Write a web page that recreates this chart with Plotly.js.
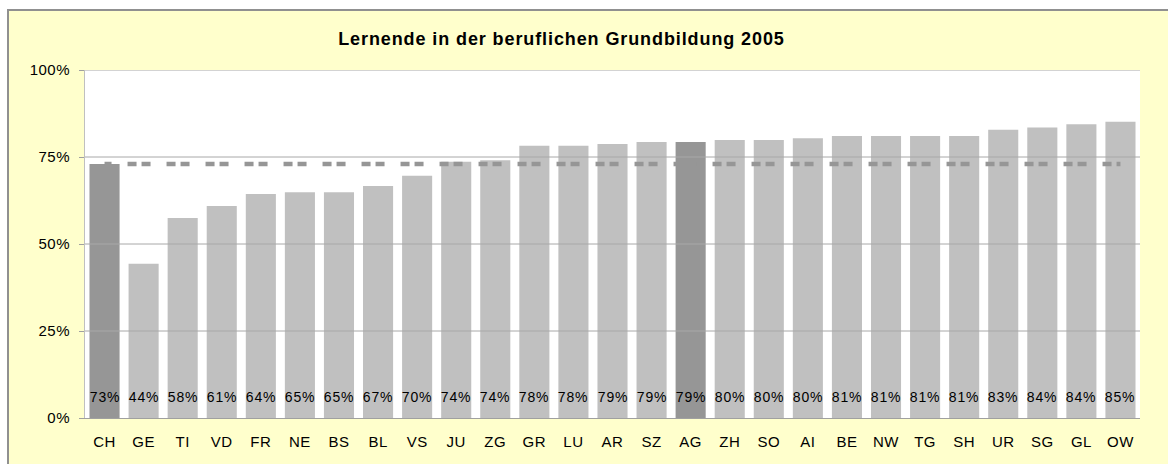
<!DOCTYPE html>
<html>
<head>
<meta charset="utf-8">
<script src="https://cdn.plot.ly/plotly-3.0.1.min.js"></script>
<style>
  html, body { margin: 0; padding: 0; background: #ffffff; overflow: hidden; }
  #frame {
    position: absolute; left: 7px; top: 9px; width: 1161px; height: 455px;
    background: #FFFFCC; border-left: 2px solid #909090; border-top: 2px solid #909090;
    box-sizing: border-box;
  }
  #chart { position: absolute; left: 0; top: 0; width: 1168px; height: 464px; }
  #chart .gtitle { letter-spacing: 0.9px; }
  #chart .annotation-text { letter-spacing: 0.8px; }
  #chart .xtick text, #chart .ytick text { letter-spacing: 0.5px; }
</style>
</head>
<body>
<div id="frame"></div>
<div id="chart"></div>
<script>
// Kantone
const categories = ['CH','GE','TI','VD','FR','NE','BS','BL','VS','JU','ZG','GR','LU','AR','SZ','AG','ZH','SO','AI','BE','NW','TG','SH','UR','SG','GL','OW'];
// Anteil Lernende in der beruflichen Grundbildung 2005 (%)
const values = [73.0,44.3,57.5,60.9,64.4,64.9,64.9,66.7,69.6,73.6,74.1,78.2,78.2,78.7,79.3,79.3,79.9,79.9,80.4,81.0,81.0,81.0,81.0,82.8,83.5,84.4,85.1];
// Schweizer Durchschnitt (%)
const average = [73,73,73,73,73,73,73,73,73,73,73,73,73,73,73,73,73,73,73,73,73,73,73,73,73,73,73];
const highlighted = ['CH','AG'];
const yTicks = [0,25,50,75,100];
const titleText = 'Lernende in der beruflichen Grundbildung 2005';

const FONT = 'Liberation Sans, Arial, sans-serif';

const barColors = categories.map(c => highlighted.includes(c) ? '#969696' : '#C0C0C0');

const bars = {
  type: 'bar', x: categories, y: values,
  marker: { color: barColors, line: { width: 0 } },
  hoverinfo: 'x+y', showlegend: false
};
const avgLine = {
  type: 'scatter', mode: 'lines', x: categories, y: average,
  line: { color: '#969696', width: 4.5, dash: '7px,16px,9px,5px,2px,0px' },
  hoverinfo: 'skip', showlegend: false
};

const annotations = categories.map((c, i) => ({
  x: c, y: 0, xref: 'x', yref: 'y',
  text: Math.round(values[i]) + '%',
  showarrow: false, yanchor: 'bottom', xanchor: 'center', yshift: 11,
  font: { family: FONT, size: 14, color: '#000000' }
}));

const shapes = yTicks.filter(t => t > 0).map(t => ({
  type: 'line', xref: 'paper', yref: 'y', x0: 0, x1: 1, y0: t, y1: t,
  line: { color: '#a8a8a8', width: 1 }, layer: 'above'
}));

const layout = {
  width: 1168, height: 464,
  margin: { l: 85, r: 28, t: 70, b: 46, pad: 0 },
  paper_bgcolor: 'rgba(0,0,0,0)',
  plot_bgcolor: '#ffffff',
  font: { family: FONT, color: '#000000' },
  title: {
    text: '<b>' + titleText + '</b>',
    font: { family: FONT, size: 18, color: '#000000' },
    xref: 'container', yref: 'container', x: 0.4807, xanchor: 'center', y: 0.916, yanchor: 'middle'
  },
  bargap: 0.23,
  xaxis: {
    type: 'category', showgrid: false, zeroline: false,
    showline: true, linecolor: '#a0a0a0', linewidth: 1,
    ticks: '', tickfont: { family: FONT, size: 15, color: '#000000' },
    ticklabelstandoff: 10, fixedrange: true
  },
  yaxis: {
    range: [0, 100], tickvals: yTicks, ticktext: yTicks.map(t => t + '%'),
    showgrid: false, zeroline: false,
    showline: true, linecolor: '#c0c0c0', linewidth: 1,
    ticks: 'outside', ticklen: 5, tickcolor: '#a0a0a0', tickwidth: 1,
    tickfont: { family: FONT, size: 15, color: '#000000' },
    ticklabelstandoff: 6, fixedrange: true
  },
  shapes: shapes,
  annotations: annotations
};

Plotly.newPlot('chart', [bars, avgLine], layout, { displayModeBar: false, staticPlot: true });
</script>
</body>
</html>
